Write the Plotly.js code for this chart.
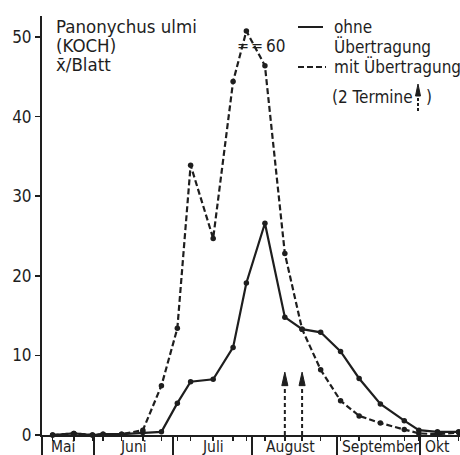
<!DOCTYPE html>
<html>
<head>
<meta charset="utf-8">
<script src="https://cdn.plot.ly/plotly-3.0.1.min.js"></script>
<style>html,body{margin:0;padding:0;background:#fff}#chart{width:460px;height:455px}</style>
</head>
<body>
<div id="chart"></div>
<script>
// Sampling dates (day of year)
const dates = [137,145,152,156,163,171,178,184,189,197.5,205,210,217,224.5,231,238,245.5,252.5,260.5,269.5,275,282,290];
// Panonychus ulmi, x̄ per leaf
const ohne = [0,0.2,0,0.1,0.1,0.3,0.4,4.0,6.7,7.0,11.0,19.1,26.6,14.8,13.3,12.9,10.5,7.1,3.9,1.8,0.6,0.4,0.4];
const mit  = [0,0.2,0,0.1,0.1,0.6,6.2,13.4,33.9,24.7,44.4,50.75,46.4,22.8,13.3,8.2,4.3,2.4,1.5,0.7,0.2,0.1,0.3];
// Treatment dates (2 Termine)
const termine = [224.5, 231];
// Month boundaries and label positions
const monthBounds = [152.5,182.5,212,244,275.5];
const monthMid = [140.9,167.3,197.4,226.8,260.4,282.2];
const monthNames = ['Mai','Juni','Juli','August','September','Okt'];
const yTicks = [0,10,20,30,40,50];
const yLabels = ['0','10','20','30','40','50'];

const FONT = 'DejaVu Sans Condensed, DejaVu Sans, sans-serif';
const INK = '#1e1e1e';
const L=42, T=16, PW=418, PH=419;
const X = p => (p - L) / PW;
const Y = p => (T + PH - p) / PH;

const stemTop = 6.2, headTop = 7.9, headHalf = 1.15;
const stemX = [], stemY = [];
termine.forEach(d => { stemX.push(d, d, null); stemY.push(0, stemTop, null); });

const traces = [
  {x: dates, y: ohne, type:'scatter', mode:'lines+markers', cliponaxis:false,
   line:{color:INK, width:2.2}, marker:{color:INK, size:5.5}, hoverinfo:'skip'},
  {x: dates, y: mit, type:'scatter', mode:'lines+markers', cliponaxis:false,
   line:{color:INK, width:2.2, dash:'6px,3px'}, marker:{color:INK, size:5.5}, hoverinfo:'skip'},
  {x: stemX, y: stemY, type:'scatter', mode:'lines', line:{color:INK, width:2, dash:'4px,3px'}, hoverinfo:'skip'},
  {x: [], y: [], xaxis:'x2', type:'scatter', hoverinfo:'skip'}
];

const ann = (text, x, y, size, anchor) => ({
  text, xref:'paper', yref:'paper', x:X(x), y:Y(y), xanchor:anchor||'left', yanchor:'middle',
  showarrow:false, font:{family:FONT, size:size||17, color:INK}
});

const annotations = [
  ann('Panonychus ulmi', 54, 27, 18.5),
  ann('(KOCH)', 54, 45, 18.5),
  ann('x\u0304/Blatt', 54, 64, 18.5),
  ann('=', 243, 45, 16, 'center'),
  ann('=', 257, 45, 16, 'center'),
  ann('60', 264, 46, 17),
  ann('ohne', 332, 27),
  ann('Übertragung', 332, 46),
  ann('mit Übertragung', 332, 66),
  ann('(2 Termine', 330, 97),
  ann(')', 424, 97)
];
// month names under the axis, at data x positions
monthNames.forEach((m, i) => annotations.push({
  text:m, xref:'x', yref:'paper', x:monthMid[i], y:Y(436), xanchor:'center', yanchor:'top',
  showarrow:false, font:{family:FONT, size:15.5, color:INK}
}));

const shapes = [
  {type:'line', xref:'paper', yref:'paper', x0:X(298), x1:X(323), y0:Y(27), y1:Y(27), line:{color:INK, width:2}},
  {type:'line', xref:'paper', yref:'paper', x0:X(298), x1:X(326), y0:Y(67), y1:Y(67), line:{color:INK, width:2, dash:'6px,3px'}},
  {type:'line', xref:'paper', yref:'paper', x0:X(418), x1:X(418), y0:Y(111), y1:Y(94), line:{color:INK, width:2, dash:'3px,2px'}},
  {type:'path', xref:'paper', yref:'paper',
   path:'M'+X(415.5)+','+Y(96)+' L'+X(420.5)+','+Y(96)+' L'+X(418)+','+Y(84)+' Z',
   fillcolor:INK, line:{color:INK, width:1}},
  {type:'line', xref:'paper', yref:'paper', x0:0, x1:0, y0:0, y1:Y(455), line:{color:INK, width:2}}
];
// arrowheads of the two treatment arrows, placed on the data scales
termine.forEach(d => shapes.push({type:'path', xref:'x', yref:'y',
  path:'M'+(d-headHalf)+','+stemTop+' L'+(d+headHalf)+','+stemTop+' L'+d+','+headTop+' Z',
  fillcolor:INK, line:{color:INK, width:1}}));

const layout = {
  width:460, height:455, showlegend:false,
  margin:{l:L, r:0, t:T, b:20, pad:0},
  paper_bgcolor:'#fff', plot_bgcolor:'#fff',
  font:{family:FONT, color:INK},
  xaxis:{range:[133,290.5], showline:true, linecolor:INK, linewidth:2, ticks:'outside',
         tickmode:'array', tickvals:dates, ticklen:4, tickwidth:1.5, tickcolor:INK,
         showticklabels:false, showgrid:false, zeroline:false, fixedrange:true},
  xaxis2:{overlaying:'x', matches:'x', range:[133,290.5], showline:false, ticks:'outside',
          tickmode:'array', tickvals:monthBounds, ticklen:20, tickwidth:2, tickcolor:INK,
          showticklabels:false, showgrid:false, zeroline:false, fixedrange:true},
  yaxis:{range:[0,52.64], showline:true, linecolor:INK, linewidth:2, ticks:'outside',
         tickmode:'array', tickvals:yTicks, ticktext:yLabels, ticklen:5, tickwidth:1.5, tickcolor:INK,
         tickfont:{family:FONT, size:17, color:INK},
         showgrid:false, zeroline:false, fixedrange:true},
  annotations, shapes
};

Plotly.newPlot('chart', traces, layout, {staticPlot:true, displayModeBar:false});
</script>
</body>
</html>
